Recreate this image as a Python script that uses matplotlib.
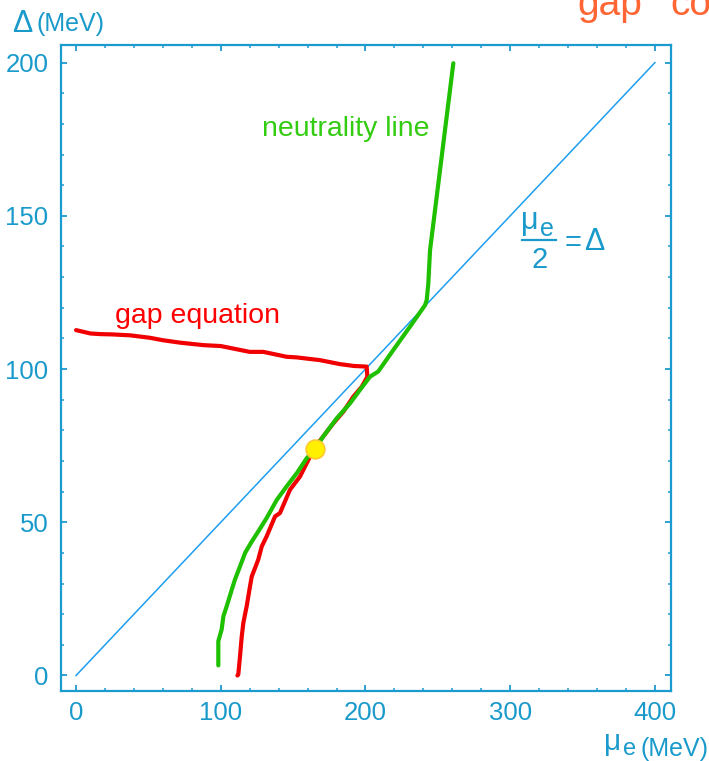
import matplotlib
matplotlib.use("Agg")
import matplotlib.pyplot as plt
from matplotlib.ticker import MultipleLocator
from matplotlib.lines import Line2D

plt.rcParams['font.family'] = ['Liberation Sans', 'DejaVu Sans']

# ---- data ----
gap_mu = [0, 10, 16.6, 25, 37.3, 51, 60, 72, 88, 100, 120, 129.4, 145.5, 152.5,
          168.6, 182.4, 192, 200.8, 201.3, 197.4, 191.6, 184.7, 177.8, 170.8,
          165, 161.7, 154.7, 147.8, 140.9, 137.5, 131.7, 128.3, 125.9, 121.4,
          120.2, 117.9, 115.6, 114.5, 113.3, 112.1, 111.5]
gap_delta = [112.7, 111.6, 111.4, 111.3, 111.0, 110.2, 109.4, 108.6, 107.8, 107.5,
             105.6, 105.6, 104.0, 103.8, 102.9, 101.6, 101.0, 100.8, 97.5, 94.2,
             91.0, 86.1, 82.3, 78.0, 74.5, 71.4, 64.9, 60.6, 53.0, 51.9, 45.4,
             42.1, 37.8, 32.3, 29.1, 22.6, 17.2, 12.8, 6.3, 0.3, 0.0]

neu_mu = [98.3, 98.3, 100.6, 101.8, 104.1, 107.6, 109.8, 113.3, 116.8, 121.4,
          125.9, 131.7, 138.7, 145.5, 152.5, 159.4, 165.1, 170.8, 180.1, 189.3,
          196.2, 203.1, 208.8, 219.2, 230.7, 241.1, 242.3, 243.4, 244.6, 260.7]
neu_delta = [3.3, 11.2, 15.0, 19.3, 22.6, 28.0, 31.3, 35.6, 40.0, 43.7,
             47.0, 51.4, 57.3, 61.7, 66.0, 70.9, 73.9, 78.0, 83.9, 88.8,
             93.2, 97.5, 99.2, 106.2, 113.8, 120.8, 122.5, 127.9, 138.8, 199.8]

diag_mu = [0, 400]
diag_delta = [0, 200]

sol_mu = [165.1]
sol_delta = [73.9]

x_ticks = [0, 100, 200, 300, 400]
y_ticks = [0, 50, 100, 150, 200]

# ---- style ----
AX = '#1b9bcf'
LBL = '#1a9acb'
RED = '#f00000'
GREEN = '#1ec000'
DIAG = '#1e9ef0'

W, H = 709, 761
fig = plt.figure(figsize=(W / 100, H / 100), dpi=100)
ax = fig.add_axes([61 / W, 1 - 691 / H, (671 - 61) / W, (691 - 44.5) / H])

ax.plot(diag_mu, diag_delta, color=DIAG, lw=1.1, zorder=2)
ax.plot(gap_mu, gap_delta, color=RED, lw=3.0, solid_capstyle='round',
        solid_joinstyle='round', zorder=3)
ax.plot(neu_mu, neu_delta, color=GREEN, lw=3.0, solid_capstyle='round',
        solid_joinstyle='round', zorder=4)
ax.plot(sol_mu, sol_delta, 'o', ms=13.5, mfc='#fff000', mec='#ffc830', mew=1.2,
        zorder=5)

ax.set_xlim(-10.4, 411.1)
ax.set_ylim(-5.06, 205.9)
ax.set_xticks(x_ticks)
ax.set_yticks(y_ticks)
ax.set_xticklabels([str(v) for v in x_ticks])
ax.set_yticklabels([str(v) for v in y_ticks])
ax.xaxis.set_minor_locator(MultipleLocator(20))
ax.yaxis.set_minor_locator(MultipleLocator(10))
ax.tick_params(which='both', direction='in', top=True, right=True, color=AX,
               labelcolor=LBL, labelsize=18.5)
ax.tick_params(which='major', length=4.5, width=1.3)
ax.tick_params(which='minor', length=2.5, width=1.1)
ax.tick_params(axis='y', pad=9)
ax.tick_params(axis='x', pad=7)
for s in ax.spines.values():
    s.set_color(AX)
    s.set_linewidth(1.6)

# annotations
ax.text(128.5, 176.0, 'neutrality line', color='#33cc11', fontsize=20.5,
        ha='left', va='baseline')
ax.text(26.9, 115.1, 'gap equation', color='#ff0000', fontsize=20.5,
        ha='left', va='baseline')


def ftext(x, y, s, **kw):
    kw.setdefault('va', 'baseline')
    kw.setdefault('ha', 'left')
    fig.text(x / W, 1 - y / H, s, **kw)


# mu_e / 2 = Delta label
ftext(521, 228.5, 'μ', color=LBL, fontsize=22)
ftext(540, 236.5, 'e', color=LBL, fontsize=18)
fig.add_artist(Line2D([521.5 / W, 556 / W], [1 - 240.3 / H, 1 - 240.3 / H],
                      transform=fig.transFigure, color=LBL, lw=1.6))
ftext(539.5, 268.5, '2', color=LBL, fontsize=21, ha='center')
ftext(565, 251, '=', color=LBL, fontsize=21)
ftext(584.5, 250.5, 'Δ', color=LBL, fontsize=22)

# axis titles (figure pixel placement)
ftext(12, 31.5, 'Δ', color=LBL, fontsize=22)
ftext(36, 31, '(MeV)', color=LBL, fontsize=18)
ftext(604, 750, 'μ', color=LBL, fontsize=21.5)
ftext(623, 755, 'e', color=LBL, fontsize=17)
ftext(640, 756, '(MeV)', color=LBL, fontsize=18)

# cut-off title at top right
ftext(577, 15, 'gap', color='#ff6633', fontsize=28)
ftext(670, 15, 'condition', color='#ff6633', fontsize=28)

fig.savefig('out.png', dpi=100)
